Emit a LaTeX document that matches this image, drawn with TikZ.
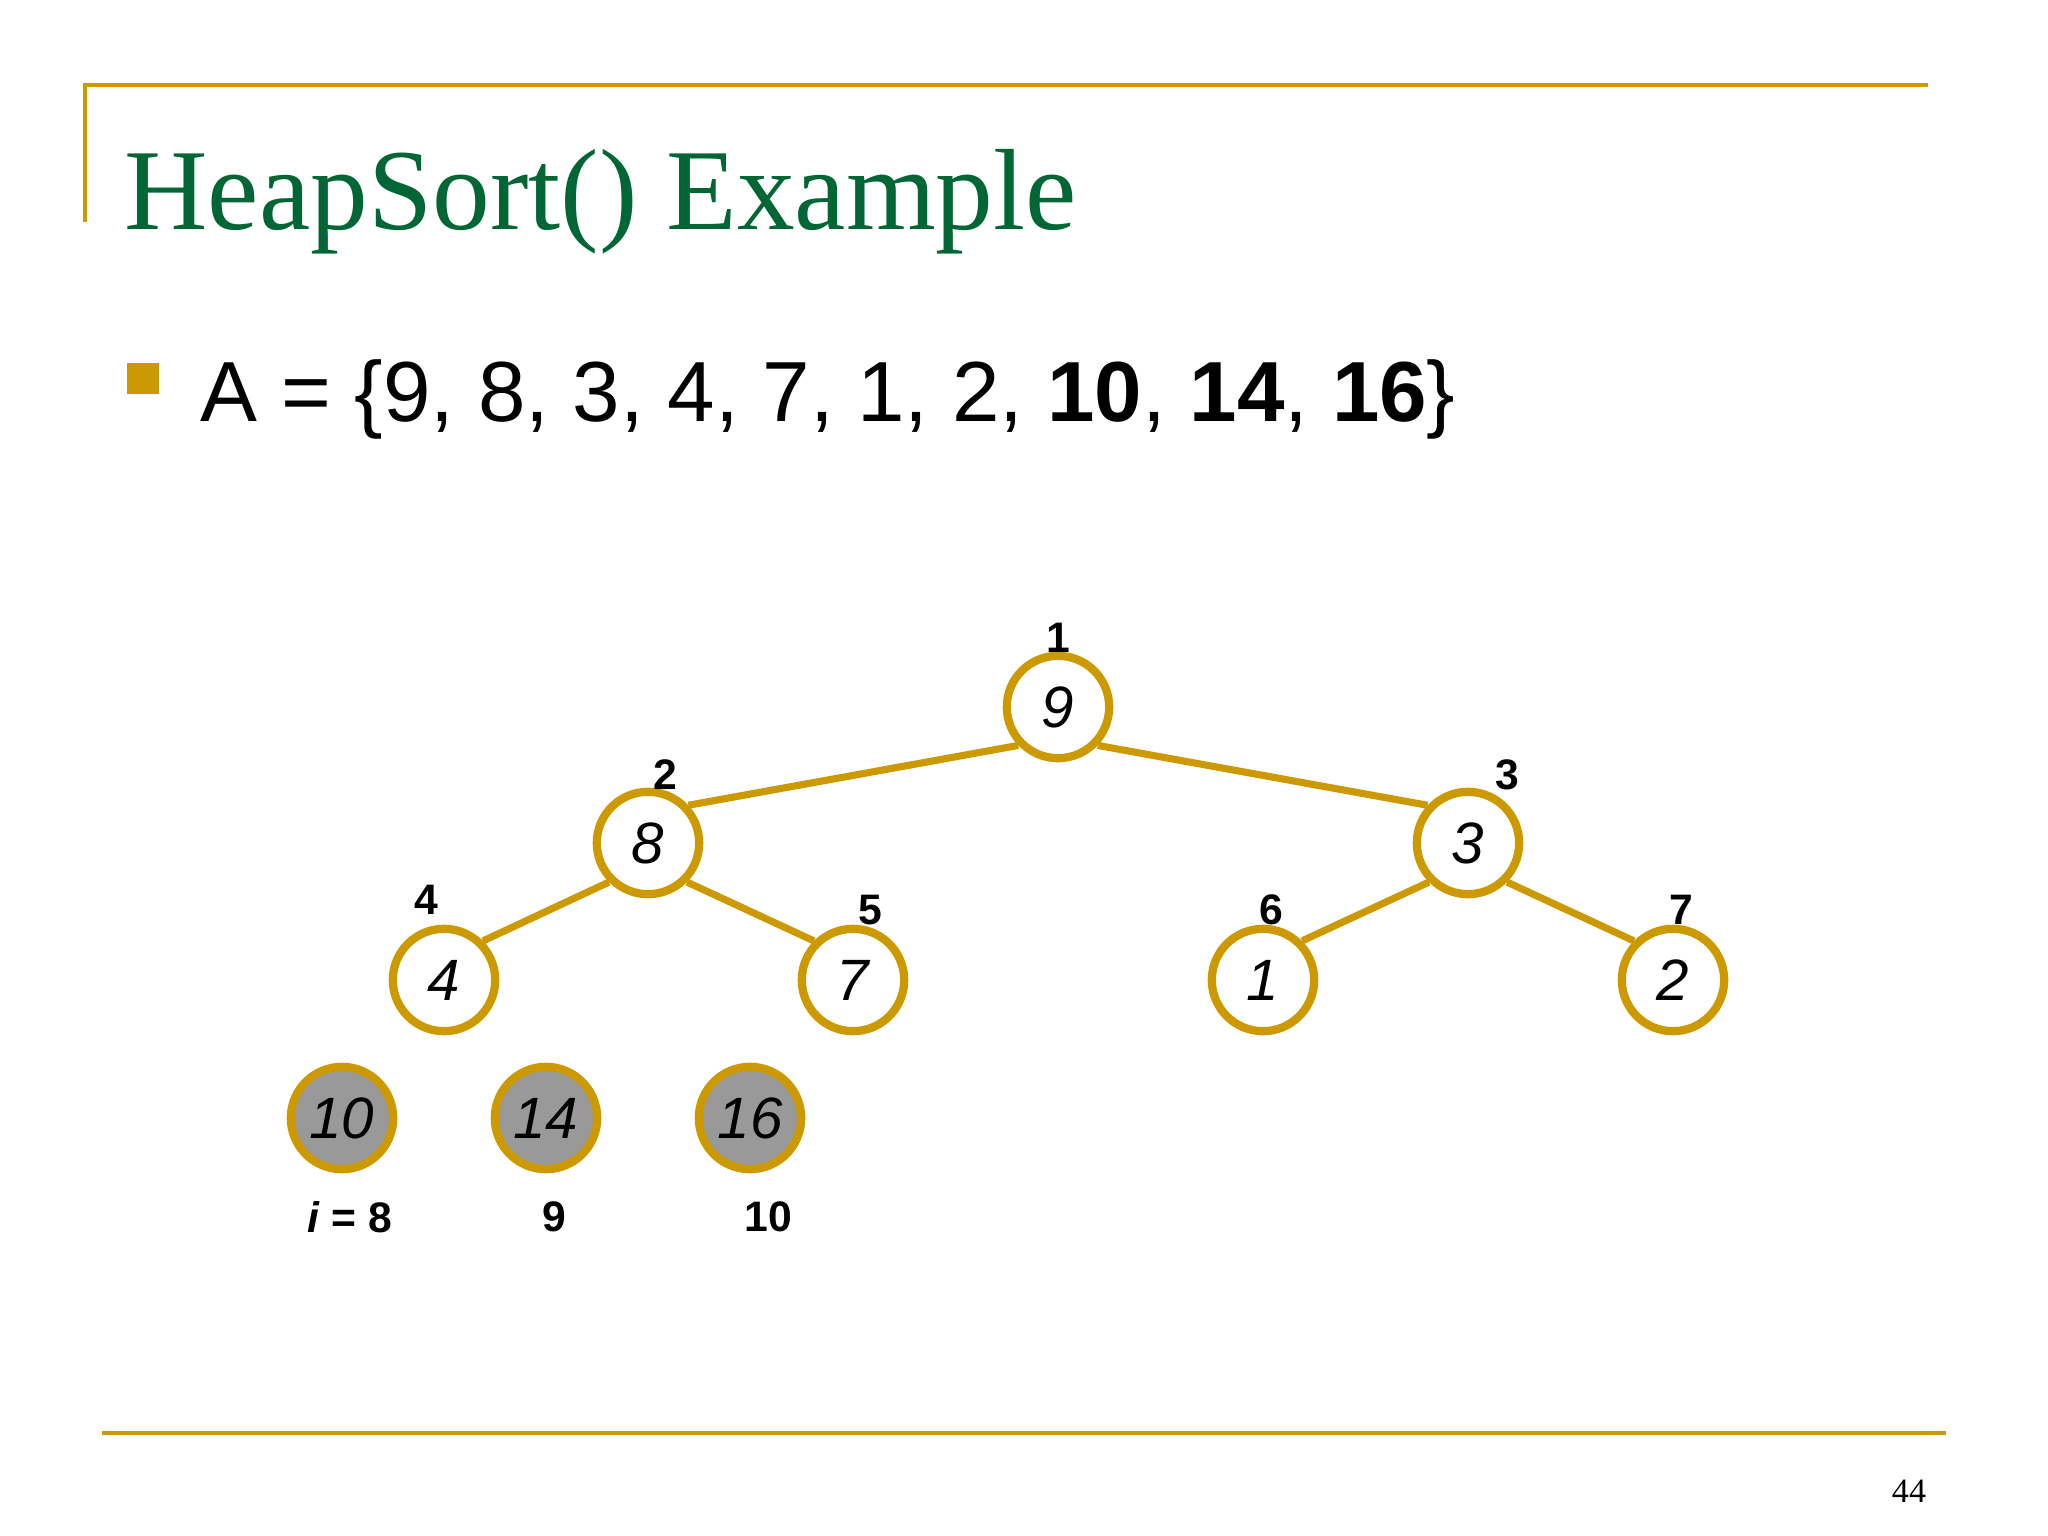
\documentclass[tikz,border=0pt]{standalone}
\usepackage{fontspec}
\setmainfont{Liberation Serif}
\setsansfont{Liberation Sans}
\definecolor{gold}{HTML}{CC9900}
\definecolor{titlegreen}{HTML}{006633}
\definecolor{greyfill}{HTML}{999999}
\begin{document}
\begin{tikzpicture}[x=0.3515625pt,y=-0.3515625pt,
  heapnode/.style={circle,draw=gold,line width=2.9pt,fill=white,minimum size=36pt,inner sep=0pt,font=\sffamily\itshape\fontsize{20.5}{24}\selectfont},
  donenode/.style={heapnode,fill=greyfill},
  idx/.style={font=\sffamily\bfseries\fontsize{15}{18}\selectfont,inner sep=0pt},
  edge/.style={draw=gold,line width=2.5pt},
  rule/.style={draw=gold,line width=1.4pt}]
\useasboundingbox[fill=white] (0,0) rectangle (2048,1536);
% frame rules
\coordinate (tl) at (85,85);
\coordinate (tlb) at (85,222);
\coordinate (tr) at (1928,85);
\coordinate (bl) at (102,1433);
\coordinate (br) at (1946,1433);
\draw[rule] (tlb) -- (tl) -- (tr);
\draw[rule] (bl) -- (br);
% title
\node[anchor=base west,text=titlegreen,font=\fontsize{40.6}{48}\selectfont,inner sep=0pt] (title) at (124,230) {HeapSort() Example};
% bullet
\fill[gold] (127,363) rectangle (159,394);
\node[anchor=base west,font=\sffamily\fontsize{30}{36}\selectfont,inner sep=0pt] (arr) at (200,422) {A = \{9, 8, 3, 4, 7, 1, 2, \textbf{10}, \textbf{14}, \textbf{16}\}};
% heap nodes
\node[heapnode] (n9) at (1058,707) {9};
\node[heapnode] (n8) at (648,843) {8};
\node[heapnode] (n3) at (1468,843) {3};
\node[heapnode] (n4) at (444,980) {4};
\node[heapnode] (n7) at (853,980) {7};
\node[heapnode] (n1) at (1263,980) {1};
\node[heapnode] (n2) at (1673,980) {2};
\node[donenode] (n10) at (342,1118) {10};
\node[donenode] (n14) at (546,1118) {14};
\node[donenode] (n16) at (750,1118) {16};
% edges
\draw[edge] (n9.224) -- (n8.43);
\draw[edge] (n9.316) -- (n3.137);
\draw[edge] (n8.225) -- (n4.45);
\draw[edge] (n8.315) -- (n7.135);
\draw[edge] (n3.225) -- (n1.45);
\draw[edge] (n3.315) -- (n2.135);
% index labels
\node[idx] (i1) at (1058,638) {1};
\node[idx] (i2) at (665,775) {2};
\node[idx] (i3) at (1507,775) {3};
\node[idx] (i4) at (426,900) {4};
\node[idx] (i5) at (870,910) {5};
\node[idx] (i6) at (1271,910) {6};
\node[idx] (i7) at (1681,910) {7};
\node[idx] (i8) at (350,1217) {\textit{i} = 8};
\node[idx] (i9) at (554,1217) {9};
\node[idx] (i10) at (768,1217) {10};
% page number
\node[font=\fontsize{12}{14}\selectfont,inner sep=0pt] (page) at (1909,1491) {44};
\end{tikzpicture}
\end{document}
